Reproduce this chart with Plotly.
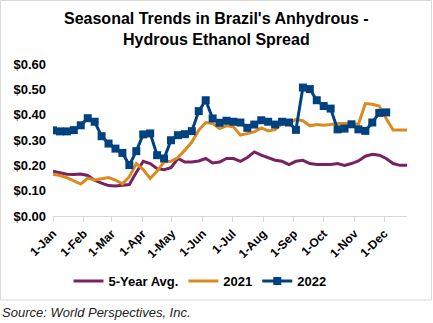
import datetime as dt
import plotly.graph_objects as go

# Weekly seasonal dates (common year used for the x axis)
start = dt.date(2022, 1, 1)
weeks = [start + dt.timedelta(days=7 * i) for i in range(52)]

avg5 = [0.177, 0.170, 0.165, 0.164, 0.166, 0.160, 0.141, 0.130, 0.120, 0.118,
        0.121, 0.124, 0.172, 0.216, 0.207, 0.187, 0.183, 0.191, 0.227, 0.213,
        0.213, 0.217, 0.227, 0.209, 0.213, 0.227, 0.227, 0.216, 0.231, 0.253,
        0.240, 0.229, 0.220, 0.216, 0.203, 0.216, 0.220, 0.207, 0.203, 0.203,
        0.203, 0.207, 0.200, 0.207, 0.217, 0.236, 0.244, 0.240, 0.227, 0.207,
        0.200, 0.200]

y2021 = [0.165, 0.160, 0.151, 0.140, 0.126, 0.149, 0.142, 0.147, 0.152, 0.142,
         0.127, 0.155, 0.207, 0.183, 0.148, 0.178, 0.213, 0.216, 0.231, 0.260,
         0.292, 0.339, 0.369, 0.365, 0.345, 0.356, 0.352, 0.319, 0.326, 0.332,
         0.348, 0.336, 0.341, 0.365, 0.368, 0.381, 0.376, 0.356, 0.361, 0.358,
         0.361, 0.365, 0.365, 0.365, 0.362, 0.444, 0.441, 0.434, 0.385, 0.339,
         0.339, 0.339]

y2022 = [0.338, 0.334, 0.334, 0.339, 0.358, 0.386, 0.372, 0.315, 0.286, 0.266,
         0.249, 0.201, 0.256, 0.322, 0.326, 0.240, 0.227, 0.299, 0.319, 0.323,
         0.335, 0.414, 0.457, 0.385, 0.368, 0.376, 0.372, 0.369, 0.348, 0.361,
         0.378, 0.372, 0.361, 0.372, 0.369, 0.340, 0.507, 0.501, 0.457, 0.434,
         0.424, 0.342, 0.345, 0.362, 0.342, 0.336, 0.369, 0.407, 0.409]

month_ticks = [dt.date(2022, m, 1) for m in range(1, 13)]

PURPLE = "#782262"
ORANGE = "#DB8A1F"
BLUE = "#00427F"
FONT = "Liberation Sans"

fig = go.Figure()
fig.add_trace(go.Scatter(x=weeks, y=avg5, name="5-Year Avg.", mode="lines",
                         line=dict(color=PURPLE, width=3)))
fig.add_trace(go.Scatter(x=weeks, y=y2021, name="2021", mode="lines",
                         line=dict(color=ORANGE, width=3)))
fig.add_trace(go.Scatter(x=weeks[:len(y2022)], y=y2022, name="2022", mode="lines+markers",
                         line=dict(color=BLUE, width=3),
                         marker=dict(symbol="square", size=8, color=BLUE)))

W, H = 433, 323
L, R, T, B = 53, 26, 64, 107
pw = W - L - R
ph = H - T - B

def px(x):
    return (x - L) / pw

def py(y):
    return (H - B - y) / ph

fig.update_layout(
    width=W, height=H,
    margin=dict(l=L, r=R, t=T, b=B),
    paper_bgcolor="white", plot_bgcolor="white",
    font=dict(family=FONT, color="black"),
    showlegend=True,
    legend=dict(orientation="h", x=px(200), xanchor="center", y=py(281), yanchor="middle",
                font=dict(family=FONT, size=13, weight="bold", color="black"),
                itemwidth=30, tracegroupgap=0, bgcolor="rgba(0,0,0,0)"),
    xaxis=dict(type="date", range=[weeks[0], weeks[-1]],
               tickvals=month_ticks, tickformat="%-d-%b", tickangle=-45,
               tickfont=dict(family=FONT, size=12, weight="bold", color="black"),
               showgrid=False, showline=True, linecolor="#d9d9d9", linewidth=1,
               ticks="outside", ticklen=5, tickcolor="#d9d9d9", zeroline=False),
    yaxis=dict(range=[0, 0.6], tickvals=[0, 0.1, 0.2, 0.3, 0.4, 0.5, 0.6],
               tickformat="$.2f", ticklabelstandoff=6,
               tickfont=dict(family=FONT, size=13, weight="bold", color="black"),
               showgrid=False, showline=False, zeroline=False, ticks=""),
    annotations=[
        dict(text="Seasonal Trends in Brazil's Anhydrous -<br>Hydrous Ethanol Spread",
             xref="paper", yref="paper", x=px(216), y=py(29), xanchor="center",
             yanchor="middle", showarrow=False,
             font=dict(family=FONT, size=16, weight="bold", color="black")),
        dict(text="<i>Source: World Perspectives, Inc.</i>",
             xref="paper", yref="paper", x=px(0), y=py(312), xanchor="left",
             yanchor="middle", showarrow=False,
             font=dict(family=FONT, size=13, color="#222222")),
    ],
    shapes=[dict(type="rect", xref="paper", yref="paper",
                 x0=px(0.5), x1=px(431.5), y0=py(0.5), y1=py(300),
                 line=dict(color="#d9d9d9", width=1), layer="below")],
)

fig.write_html("out.html")
